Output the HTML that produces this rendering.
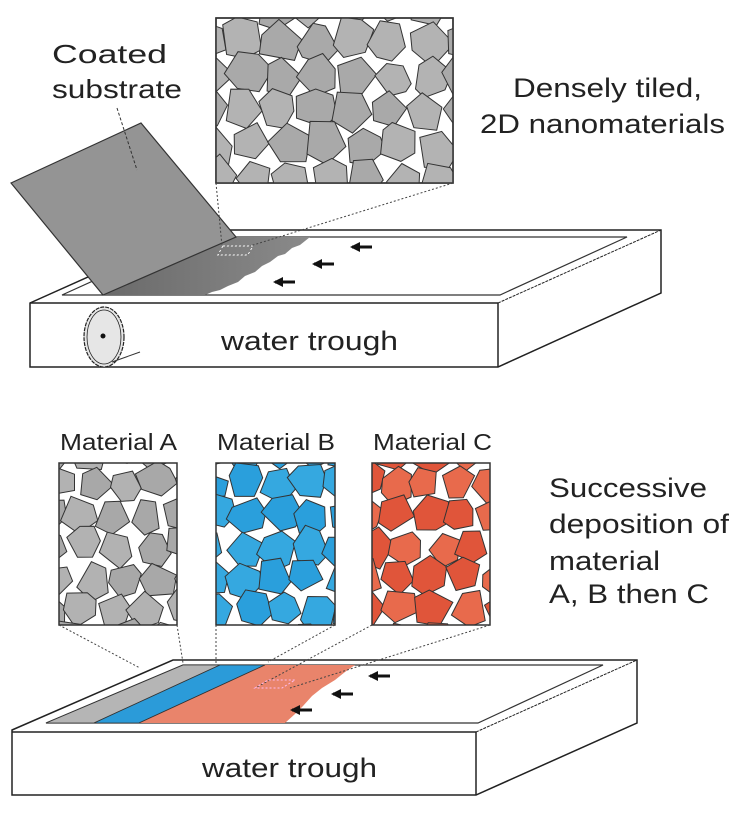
<!DOCTYPE html>
<html><head><meta charset="utf-8"><style>
html,body{margin:0;padding:0;background:#fff;}
svg{display:block;}
text{font-family:"Liberation Sans",Arial,sans-serif;fill:#222;}
</style></head><body>
<svg id="s" width="754" height="834" viewBox="0 0 754 834" xmlns="http://www.w3.org/2000/svg">
<defs>
<clipPath id="c0"><rect x="216" y="18" width="237" height="165"/></clipPath>
<clipPath id="c1"><rect x="59" y="463" width="118" height="162"/></clipPath>
<clipPath id="c2"><rect x="216" y="463" width="119" height="162"/></clipPath>
<clipPath id="c3"><rect x="372" y="463" width="118" height="162"/></clipPath>
<marker id="ah" markerWidth="10" markerHeight="10" refX="2" refY="5" orient="auto" markerUnits="userSpaceOnUse"><path d="M0,5 L10,0 L10,10 Z" fill="#111"/></marker>
</defs>

<text x="52" y="63" font-size="26" textLength="115" lengthAdjust="spacingAndGlyphs">Coated</text>
<text x="52" y="98" font-size="26" textLength="130" lengthAdjust="spacingAndGlyphs">substrate</text>
<text x="513" y="97" font-size="27" textLength="189" lengthAdjust="spacingAndGlyphs">Densely tiled,</text>
<text x="480" y="133" font-size="27" textLength="245" lengthAdjust="spacingAndGlyphs">2D nanomaterials</text>

<rect x="216" y="18" width="237" height="165" fill="#fff" stroke="#333" stroke-width="1.5"/>
<g id="t0" clip-path="url(#c0)"></g>
<rect x="216" y="18" width="237" height="165" fill="none" stroke="#333" stroke-width="1.5"/>

<polygon points="30,303 193,230 661,230 661,293 498,367 30,367" fill="#fff" stroke="#222" stroke-width="1.5"/>
<line x1="30" y1="303" x2="498" y2="303" stroke="#222" stroke-width="1.5"/>
<line x1="498" y1="303" x2="498" y2="367" stroke="#222" stroke-width="1.5"/>
<line x1="498" y1="303" x2="661" y2="230" stroke="#222" stroke-width="1" stroke-dasharray="3,1"/>
<line x1="30" y1="303" x2="193" y2="230" stroke="#222" stroke-width="1" stroke-dasharray="3,1"/>
<line x1="498" y1="367" x2="661" y2="293" stroke="#222" stroke-width="1" stroke-dasharray="3,1"/>
<polygon points="62,295 190,237 627,237 500,295" fill="#fff" stroke="#333" stroke-width="1.2"/>
<defs><linearGradient id="gd" x1="0" y1="0" x2="1" y2="0"><stop offset="0" stop-color="#6a6a6a"/><stop offset="1" stop-color="#8a8a8a"/></linearGradient></defs>
<polygon points="103,295 236,237 310,237 300,245 292,248 285,254 278,256 270,262 262,266 255,272 245,276 238,282 228,286 220,290 212,292 205,295" fill="url(#gd)"/>
<rect x="220" y="246" width="30" height="9" fill="none" stroke="#fff" stroke-width="1" stroke-dasharray="2,2" transform="skewX(-30) translate(145,0)"/>
<polygon points="11,183 141,123 236,237 103,295" fill="#949494" stroke="#333" stroke-width="1.2"/>
<line x1="117" y1="108" x2="137" y2="170" stroke="#333" stroke-width="1" stroke-dasharray="3,2"/>
<line x1="216" y1="183" x2="222" y2="246" stroke="#444" stroke-width="1" stroke-dasharray="2,2"/>
<line x1="453" y1="183" x2="250" y2="246" stroke="#444" stroke-width="1" stroke-dasharray="2,2"/>
<ellipse cx="104" cy="337" rx="20" ry="30" fill="#e6e6e6" stroke="#222" stroke-width="1.2" stroke-dasharray="4,1"/>
<ellipse cx="104" cy="337" rx="17" ry="27" fill="none" stroke="#222" stroke-width="0.8"/>
<circle cx="103" cy="336" r="2.5" fill="#111"/>
<line x1="112" y1="362" x2="140" y2="352" stroke="#333" stroke-width="1"/>
<g stroke="#111" stroke-width="3" marker-start="url(#ah)">
<line x1="352" y1="247" x2="372" y2="247"/>
<line x1="314" y1="264" x2="334" y2="264"/>
<line x1="275" y1="282" x2="295" y2="282"/>
</g>
<text x="221" y="350" font-size="27" textLength="177" lengthAdjust="spacingAndGlyphs">water trough</text>

<text x="60" y="450" font-size="23" textLength="117" lengthAdjust="spacingAndGlyphs">Material A</text>
<text x="217" y="450" font-size="23" textLength="118" lengthAdjust="spacingAndGlyphs">Material B</text>
<text x="373" y="450" font-size="23" textLength="119" lengthAdjust="spacingAndGlyphs">Material C</text>
<text x="549" y="497" font-size="27" textLength="158" lengthAdjust="spacingAndGlyphs">Successive</text>
<text x="549" y="533" font-size="27" textLength="180" lengthAdjust="spacingAndGlyphs">deposition of</text>
<text x="549" y="570" font-size="27" textLength="111" lengthAdjust="spacingAndGlyphs">material</text>
<text x="549" y="603" font-size="27" textLength="160" lengthAdjust="spacingAndGlyphs">A, B then C</text>

<rect x="59" y="463" width="118" height="162" fill="#fff"/>
<rect x="216" y="463" width="119" height="162" fill="#fff"/>
<rect x="372" y="463" width="118" height="162" fill="#fff"/>
<g id="t1" clip-path="url(#c1)"></g>
<g id="t2" clip-path="url(#c2)"></g>
<g id="t3" clip-path="url(#c3)"></g>
<rect x="59" y="463" width="118" height="162" fill="none" stroke="#333" stroke-width="1.5"/>
<rect x="216" y="463" width="119" height="162" fill="none" stroke="#333" stroke-width="1.5"/>
<rect x="372" y="463" width="118" height="162" fill="none" stroke="#333" stroke-width="1.5"/>

<polygon points="12,730 173,660 637,660 637,723 476,795 12,795" fill="#fff" stroke="#222" stroke-width="1.5"/>
<line x1="12" y1="732" x2="476" y2="732" stroke="#222" stroke-width="1.5"/>
<line x1="476" y1="732" x2="476" y2="795" stroke="#222" stroke-width="1.5"/>
<line x1="476" y1="732" x2="637" y2="660" stroke="#222" stroke-width="1" stroke-dasharray="3,1"/>
<line x1="476" y1="795" x2="637" y2="723" stroke="#222" stroke-width="1" stroke-dasharray="3,1"/>
<polygon points="46,723 183,665 603,665 478,723" fill="#fff" stroke="#333" stroke-width="1.2"/>
<polygon points="46,723 183,665 220,665 94,723" fill="#b5b5b5" stroke="#333" stroke-width="0.8"/>
<polygon points="94,723 220,665 265,665 139,723" fill="#2b9bd9" stroke="#333" stroke-width="0.8"/>
<polygon points="139,723 265,665 355,665 345,672 335,680 322,688 312,696 303,706 295,714 285,723" fill="#e9846b"/>
<line x1="139" y1="723" x2="265" y2="665" stroke="#333" stroke-width="0.8"/>
<g stroke="#444" stroke-width="1" stroke-dasharray="2,2" fill="none">
<line x1="59" y1="625" x2="140" y2="668"/>
<line x1="177" y1="625" x2="183" y2="663"/>
<line x1="216" y1="625" x2="216" y2="663"/>
<line x1="335" y1="625" x2="268" y2="662"/>
<line x1="372" y1="625" x2="255" y2="688"/>
<line x1="490" y1="625" x2="290" y2="688"/>
</g>
<polygon points="255,688 268,680 295,680 282,688" fill="none" stroke="#fbe" stroke-width="1" stroke-dasharray="2,2"/>
<g stroke="#111" stroke-width="3" marker-start="url(#ah)">
<line x1="370" y1="676" x2="390" y2="676"/>
<line x1="333" y1="694" x2="353" y2="694"/>
<line x1="292" y1="710" x2="312" y2="710"/>
</g>
<text x="202" y="777" font-size="27" textLength="175" lengthAdjust="spacingAndGlyphs">water trough</text>
</svg>
<script>
(function(){
var seed=11;function r(){seed=(seed*16807)%2147483647;return (seed-1)/2147483646;}
var NS="http://www.w3.org/2000/svg";
function fill(id,x0,y0,w,h,cell,colorFn){
 var g=document.getElementById(id);
 for(var y=y0-cell/3;y<y0+h+cell/2;y+=cell*0.88){
  for(var x=x0-cell/3+(r()*cell*0.4);x<x0+w+cell/2;x+=cell*0.92){
   var cx=x+(r()-0.5)*cell*0.25, cy=y+(r()-0.5)*cell*0.25;
   var n=5+Math.floor(r()*2), rad=cell*(0.47+r()*0.1), a0=r()*6.28, pts=[];
   for(var i=0;i<n;i++){var a=a0+i*6.283/n+(r()-0.5)*0.5;var rr=rad*(0.85+r()*0.25);pts.push((cx+rr*Math.cos(a)).toFixed(1)+","+(cy+rr*Math.sin(a)).toFixed(1));}
   var p=document.createElementNS(NS,"polygon");
   p.setAttribute("points",pts.join(" "));p.setAttribute("fill",colorFn());
   p.setAttribute("stroke","#333");p.setAttribute("stroke-width","1");
   g.appendChild(p);
  }
 }
}
fill("t0",216,18,237,165,40,function(){return r()<0.5?"#a9a9a9":"#b3b3b3";});
fill("t1",59,463,118,162,36,function(){return r()<0.5?"#a8a8a8":"#b2b2b2";});
fill("t2",216,463,119,162,36,function(){return r()<0.5?"#2a9fdc":"#35a8e0";});
fill("t3",372,463,118,162,36,function(){return r()<0.5?"#e0553a":"#e86a4c";});
})();
</script>
</body></html>
